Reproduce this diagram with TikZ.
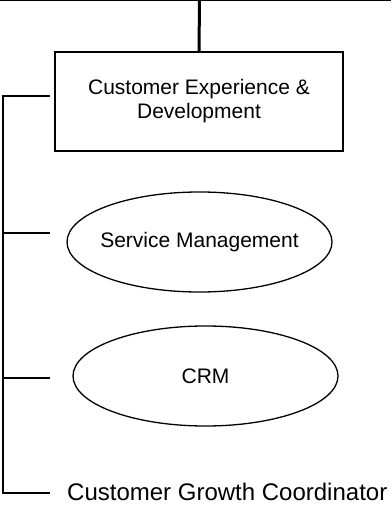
\documentclass[tikz,border=0pt]{standalone}
\usepackage{fontspec}
\setmainfont{Liberation Sans}
\usetikzlibrary{shapes.geometric}
\begin{document}
\begin{tikzpicture}[x=1pt,y=-1pt]
		\tikzstyle{trait}=[line width=1.3pt]
		\tikzstyle{boite}=[draw,line width=1.3pt,minimum width=288pt,minimum height=99pt,align=center,inner sep=0pt,font=\fontsize{21}{24}\selectfont]
		\tikzstyle{bulle}=[draw,ellipse,line width=1.3pt,minimum width=265pt,minimum height=100pt,inner xsep=-12pt,inner ysep=0pt,font=\fontsize{21}{21}\selectfont]
		\useasboundingbox (0,0) rectangle (391,510);
		\node[boite] (ced) at (199,101.5) {Customer Experience \&\\Development}; % haut
		\node[bulle] (sm) at (199.5,242) {Service Management};
		\node[bulle] (crm) at (205.5,376) {CRM};
		\node[anchor=west,inner sep=0pt,font=\fontsize{24}{24}\selectfont] (cgc) at (67,492) {Customer Growth Coordinator}; % bas
		\coordinate (g) at (0,0.6);
		\coordinate (d) at (391,0.6);
		\coordinate (h) at (199.5,0);
		\coordinate (t1) at (3,96);
		\coordinate (t2) at (3,233);
		\coordinate (t3) at (3,378);
		\coordinate (t4) at (3,493);
		\coordinate (b1) at (50,96);
		\coordinate (b2) at (50,233);
		\coordinate (b3) at (50,378);
		\coordinate (b4) at (50,493);
		\draw[line width=1pt] (g) -- (d);
		\draw[line width=3pt] (h) -- (ced.north);
		\draw[trait] (b1) -- (t1) -- (t4) -- (b4); % gauche
		\draw[trait] (t2) -- (b2);
		\draw[trait] (t3) -- (b3);
	\end{tikzpicture}
\end{document}
